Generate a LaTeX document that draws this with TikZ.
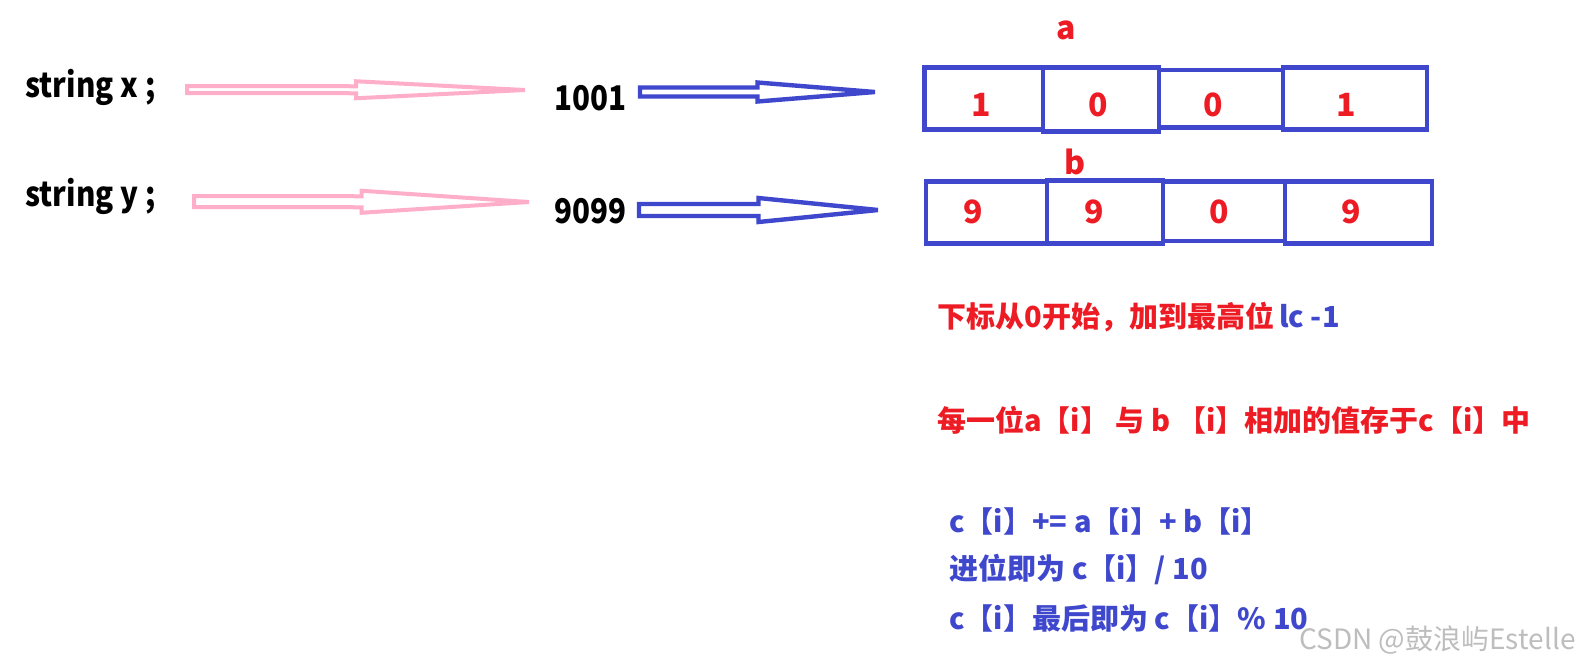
\documentclass[tikz,border=0pt]{standalone}
\usepackage{fontspec}
\setmainfont{Noto Sans CJK SC}
\newfontfamily\lblfont{Noto Sans CJK SC}[FakeStretch=0.87]
\usetikzlibrary{calc}
\definecolor{pinkA}{HTML}{FFAEC9}
\definecolor{blueA}{HTML}{3F48CC}
\definecolor{redA}{HTML}{ED1C24}
\definecolor{markG}{HTML}{BDBDBD}
% hollow arrow: style, start, tip, shaft half width, head half width, head base fraction
\newcommand{\hollowarrow}[6]{%
  \draw[#1] ($(#2)+(0,-#4)$) -- ($(#2)!#6!(#3)+(0,-#4)$) -- ($(#2)!#6!(#3)+(0,-#5)$)
    -- (#3) -- ($(#2)!#6!(#3)+(0,#5)$) -- ($(#2)!#6!(#3)+(0,#4)$) -- ($(#2)+(0,#4)$) -- cycle;}
\begin{document}
\begin{tikzpicture}[x=0.5pt,y=-0.5pt,
  lbl/.style={font=\lblfont\fontsize{17}{20}\selectfont\bfseries, inner sep=0pt, anchor=west},
  dig/.style={font=\fontsize{16}{19}\selectfont\bfseries, text=redA, inner sep=0pt},
  txt/.style={font=\fontsize{14.5}{17}\selectfont\bfseries, inner sep=0pt, anchor=west},
  pinkarrow/.style={draw=pinkA, line width=2pt, line join=miter},
  bluearrow/.style={draw=blueA, line width=2.2pt, line join=miter},
  cell/.style={draw=blueA, line width=2.4pt}]
\useasboundingbox (0,0) rectangle (1588,666);

% left labels
\node[lbl] (sx) at (25,87) {string x ;};
\node[lbl] (sy) at (25,196) {string y ;};
\node[lbl] (n1) at (554,98) {1001};
\node[lbl] (n2) at (554,211) {9099};

% arrow end points
\coordinate (p1s) at (187,89.5);
\coordinate (p1t) at (525,90);
\coordinate (p2s) at (194,201.5);
\coordinate (p2t) at (529,202);
\coordinate (b1s) at (640,92);
\coordinate (b1t) at (875,92);
\coordinate (b2s) at (639,210);
\coordinate (b2t) at (878,210);

\hollowarrow{pinkarrow}{p1s}{p1t}{3.5}{8.5}{0.5}
\hollowarrow{pinkarrow}{p2s}{p2t}{5.5}{11}{0.5}
\hollowarrow{bluearrow}{b1s}{b1t}{4.5}{9.5}{0.5}
\hollowarrow{bluearrow}{b2s}{b2t}{6}{12}{0.5}

% array a
\draw[cell] (924.5,67.5) rectangle (1043,129.5);
\draw[cell] (1043,67.5) rectangle (1159,131.5);
\draw[cell] (1159,70) rectangle (1283,127.5);
\draw[cell] (1283,67.5) rectangle (1427,129.5);
% array b
\draw[cell] (926,181.5) rectangle (1047,243.5);
\draw[cell] (1047,180.5) rectangle (1163,243.5);
\draw[cell] (1163,181.5) rectangle (1285,241);
\draw[cell] (1285,181.5) rectangle (1432,243.5);

\node[dig] (la) at (1066,30) {a};
\node[dig] (lb) at (1075,162) {b};

\node[dig] (a0) at (981,105) {1};
\node[dig] (a1) at (1098,105) {0};
\node[dig] (a2) at (1213,105) {0};
\node[dig] (a3) at (1346,105) {1};

\node[dig] (b0) at (973,212) {9};
\node[dig] (b1) at (1094,212) {9};
\node[dig] (b2) at (1219,212) {0};
\node[dig] (b3) at (1351,212) {9};

% explanations
\node[txt] (t1) at (937,317) {\color{redA}下标从0开始，加到最高位\hspace{2.5pt}\color{blueA}lc -1};
\node[txt, text=redA] (t2) at (937,420) {每一位a【i】 与 b 【i】相加的值存于c【i】中};
\node[txt, text=blueA] (t3) at (949,521) {c【i】+= a【i】+ b【i】};
\node[txt, text=blueA] (t4) at (949,569) {进位即为 c【i】/ 10};
\node[txt, text=blueA] (t5) at (949,618) {c【i】最后即为 c【i】\% 10};

% watermark
\node[inner sep=0pt, anchor=west, text=markG, font=\fontsize{14}{17}\selectfont] (wm) at (1299,640) {CSDN @鼓浪屿Estelle};
\end{tikzpicture}
\end{document}
